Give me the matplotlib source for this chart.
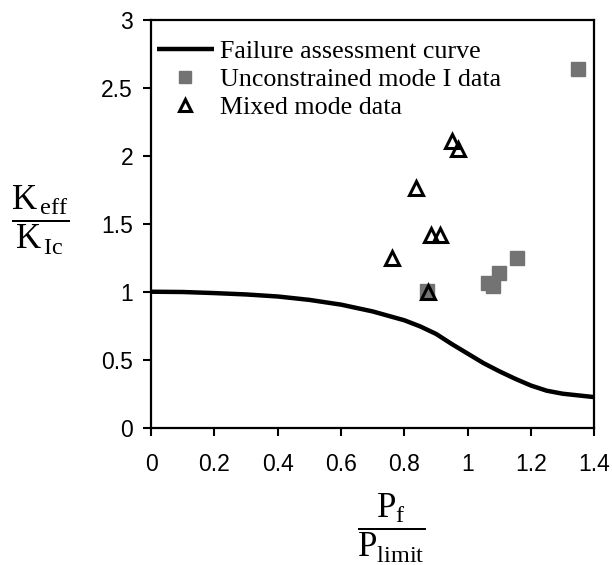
import matplotlib
matplotlib.use('Agg')
import matplotlib.pyplot as plt

# failure assessment curve
curve_x = [0, 0.1, 0.2, 0.3, 0.4, 0.5, 0.6, 0.7, 0.8, 0.85, 0.9, 0.95, 1.0,
           1.05, 1.1, 1.15, 1.2, 1.25, 1.3, 1.4]
curve_y = [1.0, 0.998, 0.99, 0.98, 0.965, 0.94, 0.905, 0.855, 0.79, 0.745,
           0.69, 0.615, 0.545, 0.475, 0.415, 0.36, 0.31, 0.272, 0.25, 0.225]

# unconstrained mode I data
mode1_x = [1.35, 1.155, 1.10, 1.063, 1.079, 0.873]
mode1_y = [2.64, 1.25, 1.135, 1.066, 1.04, 1.005]

# mixed mode data
mixed_x = [0.952, 0.970, 0.836, 0.884, 0.913, 0.762, 0.875]
mixed_y = [2.11, 2.05, 1.76, 1.42, 1.42, 1.25, 1.0]

xticks = [0, 0.2, 0.4, 0.6, 0.8, 1, 1.2, 1.4]
yticks = [0, 0.5, 1, 1.5, 2, 2.5, 3]

plt.rcParams['mathtext.fontset'] = 'custom'
plt.rcParams['mathtext.rm'] = 'Liberation Serif'
plt.rcParams['mathtext.it'] = 'Liberation Serif:italic'

fig = plt.figure(figsize=(6.12, 5.65), dpi=100)
ax = fig.add_axes([0.247, 0.243, 0.724, 0.722])

ax.plot(curve_x, curve_y, color='black', lw=3.2, solid_capstyle='butt',
        label='Failure assessment curve', zorder=2)
ax.plot(mode1_x, mode1_y, ls='none', marker='s', ms=10, color='#737373',
        label='Unconstrained mode I data', zorder=3)
ax.plot(mixed_x, mixed_y, ls='none', marker='^', ms=10, mfc='none',
        mec='black', mew=2.2, label='Mixed mode data', zorder=4)

ax.set_xlim(0, 1.4)
ax.set_ylim(0, 3)
ax.set_xticks(xticks)
ax.set_yticks(yticks)
ax.set_xticklabels(['0', '0.2', '0.4', '0.6', '0.8', '1', '1.2', '1.4'])
ax.set_yticklabels(['0', '0.5', '1', '1.5', '2', '2.5', '3'])
for lab in ax.get_xticklabels() + ax.get_yticklabels():
    lab.set_fontfamily('Liberation Sans')
    lab.set_fontsize(16.5)
ax.tick_params(axis='x', direction='out', length=6, width=1.5, pad=12)
ax.tick_params(axis='y', direction='out', length=6, width=1.5, pad=7)
for sp in ax.spines.values():
    sp.set_linewidth(1.6)

leg = ax.legend(loc='upper left', frameon=False, bbox_to_anchor=(-0.005, 0.97),
                prop={'family': 'Liberation Serif', 'size': 18.7},
                handlelength=2.2, handletextpad=0.25, labelspacing=0.18,
                borderaxespad=0.1, borderpad=0.2, markerscale=0.85)

fig.text(0.066, 0.61, r'$\dfrac{\mathrm{K}_{\,\mathrm{eff}}}{\mathrm{K}_{\,\mathrm{Ic}}}$',
         ha='center', va='center', fontsize=25)
fig.text(0.639, 0.064, r'$\dfrac{\mathrm{P}_{\mathrm{f}}}{\mathrm{P}_{\mathrm{limit}}}$',
         ha='center', va='center', fontsize=25)

fig.savefig('out.png', dpi=100)
